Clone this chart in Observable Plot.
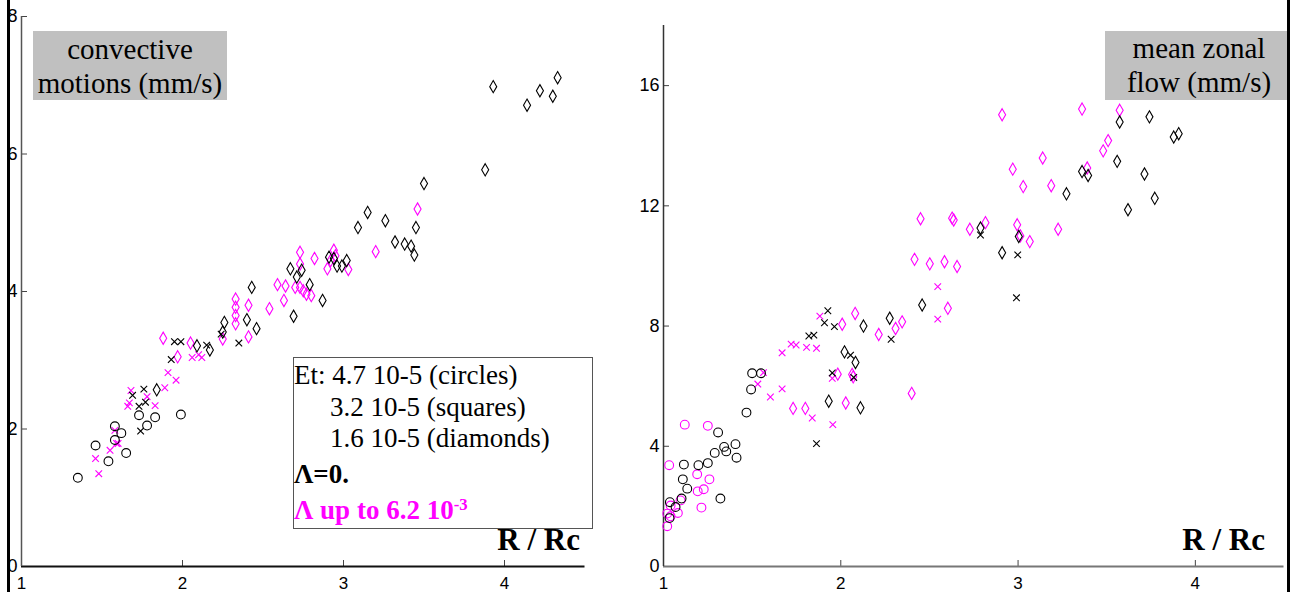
<!DOCTYPE html>
<html><head><meta charset="utf-8">
<script src="https://cdn.jsdelivr.net/npm/d3@7"></script>
<script src="https://cdn.jsdelivr.net/npm/@observablehq/plot@0.6"></script>
<style>
html,body{margin:0;padding:0;background:#fff}
#wrap{position:relative;width:1295px;height:592px;overflow:hidden;background:#fff}
.panel{position:absolute;top:0}
.txt{position:absolute;font-family:"Liberation Serif","Times New Roman",serif;color:#000;white-space:nowrap;line-height:1}
.tbox{position:absolute;background:#c0c0c0}
.sup{position:relative;top:-0.55em;font-size:0.62em}
</style></head><body>
<div id="wrap">
  <div id="left" class="panel" style="left:0"></div>
  <div id="right" class="panel" style="left:640px"></div>
  <div class="tbox" style="left:33px;top:31px;width:194px;height:69px"></div>
  <div class="tbox" style="left:1105px;top:31px;width:185px;height:69px"></div>
  <div style="position:absolute;left:293px;top:357px;width:298px;height:170px;border:1px solid #555"></div>
  <div style="position:absolute;left:7px;top:0;width:2.5px;height:592px;background:#000"></div>
  <div style="position:absolute;left:1287px;top:0;width:3px;height:592px;background:#000"></div>
</div>
<script>
// ---- data: R/Rc versus velocity (mm/s) ----
const xTicks = [1, 2, 3, 4];
const convYTicks = [0, 2, 4, 6, 8];
const zonalYTicks = [0, 4, 8, 12, 16];

// left panel: convective motions
const convCircleBlack = [[1.35,1.29],[1.46,1.76],[1.54,1.53],[1.58,2.04],[1.58,1.84],[1.62,1.94],[1.65,1.65],[1.73,2.20],[1.78,2.05],[1.83,2.17],[1.99,2.21]];
const convCrossBlack = [[1.69,2.49],[1.73,2.33],[1.77,2.39],[1.76,2.58],[1.74,1.97],[1.93,3.01],[1.95,3.27],[1.99,3.27],[2.15,3.22],[2.24,3.38],[2.35,3.25]];
const convCrossMagenta = [[1.46,1.57],[1.48,1.35],[1.55,1.69],[1.58,1.98],[1.59,1.79],[1.60,1.79],[1.66,2.33],[1.67,2.38],[1.68,2.56],[1.78,2.47],[1.83,2.34],[1.89,2.60],[1.91,2.82],[1.96,2.71],[2.06,3.04],[2.10,3.08],[2.12,3.04]];
const convDiamondBlack = [[1.84,2.57],[2.09,3.21],[2.17,3.15],[2.25,3.41],[2.26,3.55],[2.40,3.59],[2.46,3.46],[2.43,4.06],[2.69,3.64],[2.67,4.33],[2.74,4.31],[2.71,4.21],[2.79,4.10],[2.87,3.87],[2.91,4.50],[2.94,4.48],[2.96,4.37],[2.99,4.37],[3.02,4.45],[3.09,4.93],[3.15,5.15],[3.26,5.03],[3.32,4.72],[3.38,4.69],[3.42,4.66],[3.44,4.53],[3.45,4.93],[3.50,5.57],[3.88,5.77],[3.93,6.98],[4.14,6.71],[4.22,6.92],[4.30,6.84],[4.33,7.11]];
const convDiamondMagenta = [[1.88,3.32],[1.97,3.05],[2.05,3.25],[2.25,3.31],[2.33,3.89],[2.33,3.77],[2.33,3.65],[2.33,3.53],[2.41,3.80],[2.41,3.34],[2.54,3.75],[2.63,3.87],[2.59,4.10],[2.64,4.08],[2.70,4.06],[2.73,4.57],[2.73,4.40],[2.82,4.48],[2.75,4.01],[2.77,3.96],[2.80,3.94],[2.73,4.06],[2.90,4.33],[2.92,4.45],[2.94,4.60],[2.95,4.52],[3.03,4.32],[3.20,4.58],[3.46,5.20]];

// right panel: mean zonal flow
const zonalCircleBlack = [[1.036,2.14],[1.034,1.61],[1.068,1.98],[1.102,2.26],[1.109,2.90],[1.115,3.39],[1.134,2.59],[1.197,3.37],[1.25,3.44],[1.289,3.78],[1.308,4.46],[1.321,2.26],[1.342,3.98],[1.354,3.83],[1.406,4.07],[1.412,3.62],[1.468,5.12],[1.494,5.89],[1.50,6.43],[1.55,6.43]];
const zonalCircleMagenta = [[1.021,1.34],[1.021,1.76],[1.04,1.67],[1.04,2.03],[1.032,3.37],[1.081,1.78],[1.096,2.20],[1.12,4.72],[1.19,3.07],[1.193,2.50],[1.214,1.96],[1.227,2.57],[1.25,4.68],[1.259,2.90]];
const zonalCrossBlack = [[1.82,7.67],[1.848,7.70],[1.863,4.09],[1.908,8.11],[1.927,8.51],[1.952,6.44],[1.964,7.98],[2.055,7.03],[2.073,6.29],[2.284,7.56],[2.788,11.03],[2.991,8.94],[2.998,10.37]];
const zonalCrossMagenta = [[1.532,6.07],[1.564,6.45],[1.603,5.64],[1.669,5.91],[1.669,7.11],[1.72,7.40],[1.748,7.37],[1.807,7.29],[1.839,4.94],[1.863,7.26],[1.882,8.33],[1.952,6.26],[1.955,4.72],[2.547,9.31],[2.547,8.23]];
const zonalDiamondBlack = [[1.932,5.50],[2.021,7.14],[2.083,6.79],[2.111,5.28],[2.128,8.00],[2.276,8.26],[2.459,8.70],[2.788,11.26],[2.91,10.44],[3.004,10.98],[3.273,12.40],[3.361,13.14],[3.395,13.01],[3.559,13.48],[3.573,14.79],[3.62,11.87],[3.713,13.06],[3.741,14.96],[3.771,12.25],[3.878,14.29],[3.906,14.40]];
const zonalDiamondMagenta = [[1.731,5.26],[1.80,5.26],[1.983,6.40],[2.008,8.06],[2.028,5.44],[2.064,6.39],[2.07,6.31],[2.081,8.42],[2.214,7.72],[2.309,7.92],[2.346,8.14],[2.40,5.76],[2.416,10.22],[2.45,11.57],[2.502,10.07],[2.585,10.14],[2.604,8.59],[2.628,11.59],[2.637,11.53],[2.656,9.98],[2.728,11.22],[2.816,11.44],[2.91,15.03],[2.97,13.22],[2.995,11.37],[3.013,11.00],[3.029,12.64],[3.066,10.81],[3.139,13.59],[3.187,12.67],[3.226,11.22],[3.361,15.22],[3.39,13.26],[3.48,13.83],[3.508,14.17],[3.573,15.18]];

const BLACK = "#000000", MAGENTA = "#ff00ff";
const SYM = {circle: {symbol: "circle", r: 4.4}, times: {symbol: "times", r: 3.1}, diamond: {symbol: "diamond", r: 3.7}};

function dots(data, shape, color) {
  return Plot.dot(data, {x: d => d[0], y: d => d[1], symbol: SYM[shape].symbol, r: SYM[shape].r, stroke: color, fill: "none", strokeWidth: 1.1});
}

function panel({width, ml, mr, mt, mb, ymax, yTicks, yAxisColor, xAxisColor, groups}) {
  return Plot.plot({
    width, height: 592, marginLeft: ml, marginRight: mr, marginTop: mt, marginBottom: mb,
    x: {domain: [1, 4.5]},
    y: {domain: [0, ymax]},
    style: {fontFamily: "'Liberation Sans', Arial, sans-serif", fontSize: "18px", color: "#000", background: "transparent", overflow: "visible"},
    marks: [
      Plot.axisX(xTicks, {tickSize: 0, tickPadding: 10, fontSize: 17, label: null, tickFormat: d => String(d)}),
      Plot.axisX(xTicks, {tickSize: 6, dy: -6, label: null, tickFormat: () => "", stroke: "#444"}),
      Plot.axisY(yTicks, {tickSize: 0, tickPadding: 4, label: null, tickFormat: d => String(d)}),
      Plot.axisY(yTicks, {tickSize: 6, dx: 6, label: null, tickFormat: () => "", stroke: "#444"}),
      Plot.ruleY([0], {stroke: xAxisColor, strokeWidth: 2}),
      Plot.ruleX([1], {y1: 0, y2: ymax, stroke: yAxisColor, strokeWidth: 1.5}),
      ...groups.map(([data, shape, color]) => dots(data, shape, color))
    ]
  });
}

document.getElementById("left").append(panel({
  width: 640, ml: 21, mr: 55.5, mt: 16, mb: 26, ymax: 8, yTicks: convYTicks,
  yAxisColor: "#555", xAxisColor: "#111",
  groups: [
    [convCrossMagenta, "times", MAGENTA], [convDiamondMagenta, "diamond", MAGENTA],
    [convCircleBlack, "circle", BLACK], [convCrossBlack, "times", BLACK], [convDiamondBlack, "diamond", BLACK]
  ]
}));

document.getElementById("right").append(panel({
  width: 655, ml: 23, mr: 11.5, mt: 25, mb: 26, ymax: 18, yTicks: zonalYTicks,
  yAxisColor: "#333", xAxisColor: "#777",
  groups: [
    [zonalCircleMagenta, "circle", MAGENTA], [zonalCrossMagenta, "times", MAGENTA], [zonalDiamondMagenta, "diamond", MAGENTA],
    [zonalCircleBlack, "circle", BLACK], [zonalCrossBlack, "times", BLACK], [zonalDiamondBlack, "diamond", BLACK]
  ]
}));

// ---- annotations (titles, legend, axis labels) ----
const wrap = document.getElementById("wrap");
function addText(html, {x, baseline, size, bold = false, color = "#000", anchor = "start"}) {
  const el = document.createElement("div");
  el.className = "txt";
  el.innerHTML = html;
  el.style.fontSize = size + "px";
  el.style.fontWeight = bold ? "bold" : "normal";
  el.style.color = color;
  el.style.left = x + "px";
  el.style.top = (baseline - 0.8375 * size) + "px";
  if (anchor === "middle") el.style.transform = "translateX(-50%)";
  if (anchor === "end") el.style.transform = "translateX(-100%)";
  wrap.append(el);
}
addText("convective", {x: 130, baseline: 59, size: 29, anchor: "middle"});
addText("motions (mm/s)", {x: 130, baseline: 93, size: 29, anchor: "middle"});
addText("mean zonal", {x: 1199, baseline: 58, size: 29, anchor: "middle"});
addText("flow (mm/s)", {x: 1199, baseline: 92, size: 29, anchor: "middle"});

addText("Et: 4.7 10-5 (circles)", {x: 294, baseline: 385, size: 27});
addText("3.2 10-5 (squares)", {x: 330, baseline: 417, size: 27});
addText("1.6 10-5 (diamonds)", {x: 330, baseline: 448, size: 27});
addText("Λ=0.", {x: 294, baseline: 484, size: 27, bold: true});
addText('Λ up to 6.2 10<span class="sup">-3</span>', {x: 294, baseline: 520, size: 27, bold: true, color: MAGENTA});

addText("R / Rc", {x: 580, baseline: 550, size: 31, bold: true, anchor: "end"});
addText("R / Rc", {x: 1265, baseline: 550, size: 31, bold: true, anchor: "end"});
</script>
</body></html>
